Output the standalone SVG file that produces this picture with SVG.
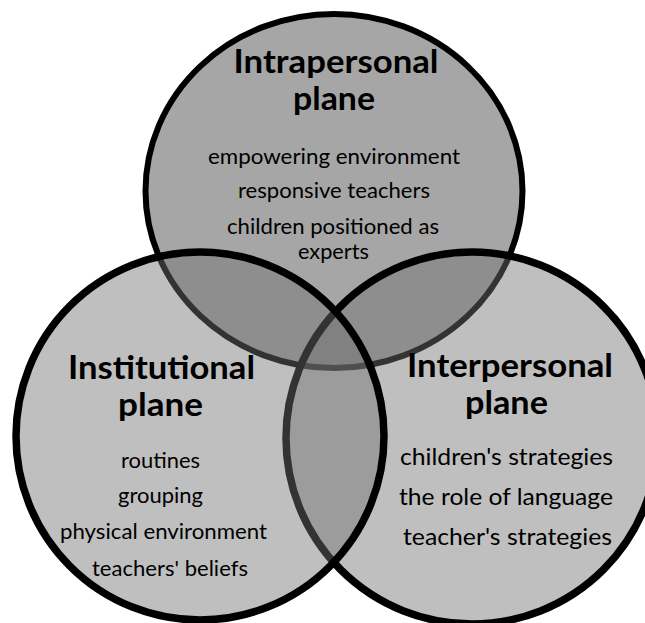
<svg xmlns="http://www.w3.org/2000/svg" width="645" height="623" viewBox="0 0 645 623">
<style>
.t{font-family:Lato,"Liberation Sans",sans-serif;fill:#000;text-anchor:middle}
.h{font-weight:bold;font-size:33px}
.b{font-size:21.4px}
.br{font-size:23.6px}
.top{fill:#a6a6a6;stroke:#000;stroke-width:6}
.low{fill:#707070;fill-opacity:0.45;stroke:#000;stroke-width:7.5}
</style>
<rect width="645" height="623" fill="#fff"/>
<g id="intrapersonal">
<ellipse class="top" cx="334" cy="191" rx="188.5" ry="177"/>
</g>
<g id="interpersonal">
<circle class="low" cx="472" cy="438" r="186"/>
</g>
<g id="institutional">
<circle class="low" cx="200" cy="436" r="184"/>
</g>
<g id="connectors"></g>
<g id="labels-intrapersonal">
<text class="t h" x="336" y="73" textLength="205" lengthAdjust="spacingAndGlyphs">Intrapersonal</text>
<text class="t h" x="334" y="110" textLength="82" lengthAdjust="spacingAndGlyphs">plane</text>
<text class="t b" x="334" y="164" textLength="252" lengthAdjust="spacingAndGlyphs">empowering environment</text>
<text class="t b" x="334" y="198" textLength="192" lengthAdjust="spacingAndGlyphs">responsive teachers</text>
<text class="t b" x="333" y="234" textLength="212" lengthAdjust="spacingAndGlyphs">children positioned as</text>
<text class="t b" x="333.5" y="259" textLength="71" lengthAdjust="spacingAndGlyphs">experts</text>
</g>
<g id="labels-institutional">
<text class="t h" x="161.5" y="378.5" textLength="187" lengthAdjust="spacingAndGlyphs">Institutional</text>
<text class="t h" x="160.5" y="416" textLength="85" lengthAdjust="spacingAndGlyphs">plane</text>
<text class="t b" x="160.5" y="468" textLength="79" lengthAdjust="spacingAndGlyphs">routines</text>
<text class="t b" x="160.5" y="503" textLength="85" lengthAdjust="spacingAndGlyphs">grouping</text>
<text class="t b" x="163.5" y="539" textLength="207" lengthAdjust="spacingAndGlyphs">physical environment</text>
<text class="t b" x="170" y="576" textLength="156" lengthAdjust="spacingAndGlyphs">teachers' beliefs</text>
</g>
<g id="labels-interpersonal">
<text class="t h" x="510" y="377" textLength="206" lengthAdjust="spacingAndGlyphs">Interpersonal</text>
<text class="t h" x="506.5" y="414" textLength="83" lengthAdjust="spacingAndGlyphs">plane</text>
<text class="t br" x="506.5" y="465" textLength="213" lengthAdjust="spacingAndGlyphs">children's strategies</text>
<text class="t br" x="506" y="505" textLength="214" lengthAdjust="spacingAndGlyphs">the role of language</text>
<text class="t br" x="507.5" y="545" textLength="209" lengthAdjust="spacingAndGlyphs">teacher's strategies</text>
</g>
</svg>
